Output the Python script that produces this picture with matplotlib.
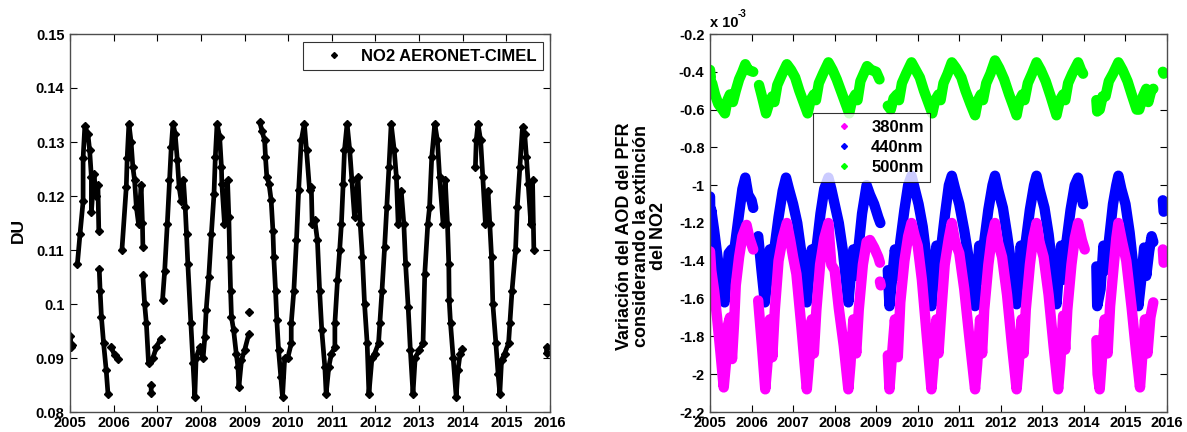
import numpy as np
import matplotlib
matplotlib.use('Agg')
import matplotlib.pyplot as plt

plt.rcParams['font.family'] = ['Liberation Sans', 'DejaVu Sans']
plt.rcParams['font.weight'] = 'bold'

# Datos: (año decimal, valor). None separa tramos sin datos.
no2_du = [
    (2005.01, 0.094), (2005.02, 0.092), (2005.04, 0.0925), None,
    (2005.17, 0.1075), (2005.23, 0.113), (2005.30, 0.119), (2005.30, 0.127), (2005.34, 0.133),
    (2005.41, 0.1315), (2005.45, 0.1285), (2005.49, 0.1235), (2005.49, 0.117), (2005.55, 0.124),
    (2005.60, 0.120), (2005.64, 0.122), (2005.66, 0.1135), None,
    (2005.67, 0.1065), (2005.69, 0.1025), (2005.72, 0.0976), (2005.77, 0.0927), (2005.83, 0.0877),
    (2005.87, 0.0834), None,
    (2005.95, 0.092), (2006.02, 0.0905), (2006.09, 0.0899), None,
    (2006.19, 0.110), (2006.29, 0.1217), (2006.31, 0.127), (2006.35, 0.1334), (2006.40, 0.130),
    (2006.44, 0.1254), (2006.48, 0.1229), (2006.52, 0.118), (2006.57, 0.1149), (2006.63, 0.122),
    (2006.66, 0.115), (2006.67, 0.1106), None,
    (2006.67, 0.1053), (2006.71, 0.100), (2006.75, 0.0964), (2006.80, 0.089), None,
    (2006.86, 0.0835), (2006.86, 0.085), None,
    (2006.90, 0.090), (2006.98, 0.092), (2007.08, 0.0936), None,
    (2007.12, 0.1007), (2007.17, 0.1062), (2007.23, 0.1149), (2007.28, 0.1229), (2007.32, 0.129),
    (2007.36, 0.1334), (2007.41, 0.1315), (2007.46, 0.1266), (2007.50, 0.1217), (2007.55, 0.119),
    (2007.60, 0.1229), (2007.64, 0.118), (2007.67, 0.113), (2007.70, 0.1075), (2007.77, 0.0964),
    (2007.82, 0.089), (2007.86, 0.0828), (2007.89, 0.090), (2007.97, 0.092), (2008.05, 0.090),
    (2008.09, 0.0939), (2008.12, 0.0988), (2008.18, 0.105), (2008.24, 0.113), (2008.30, 0.1204),
    (2008.33, 0.1272), (2008.37, 0.1334), (2008.43, 0.1309), (2008.47, 0.1254), (2008.48, 0.1223),
    (2008.54, 0.1149), (2008.61, 0.1229), (2008.64, 0.1161), (2008.66, 0.1087), (2008.68, 0.1025),
    (2008.70, 0.0976), (2008.75, 0.0951), (2008.81, 0.0908), (2008.85, 0.0883), (2008.87, 0.0846),
    (2008.93, 0.0896), (2009.00, 0.0914), (2009.10, 0.0945), None,
    (2009.10, 0.0986), None,
    (2009.35, 0.1337), (2009.40, 0.132), (2009.46, 0.1303), (2009.48, 0.1272), (2009.51, 0.1235),
    (2009.56, 0.1223), (2009.61, 0.1192), (2009.65, 0.1136), (2009.67, 0.1087), (2009.71, 0.1025),
    (2009.74, 0.097), (2009.78, 0.0914), (2009.83, 0.0865), (2009.87, 0.0828), (2009.92, 0.090),
    (2009.99, 0.090), (2010.07, 0.0927), (2010.07, 0.0964), (2010.13, 0.1025), (2010.19, 0.1118),
    (2010.24, 0.1211), (2010.30, 0.1303), (2010.37, 0.1334), (2010.42, 0.1285), (2010.49, 0.1211),
    (2010.53, 0.1217), (2010.55, 0.1149), (2010.61, 0.1155), (2010.67, 0.1118), (2010.72, 0.1025),
    (2010.77, 0.0951), (2010.84, 0.0883), (2010.87, 0.0834), (2010.93, 0.0883), (2010.99, 0.0908),
    (2011.07, 0.092), (2011.07, 0.0964), (2011.13, 0.1044), (2011.18, 0.110), (2011.22, 0.1149),
    (2011.26, 0.1223), (2011.29, 0.1285), (2011.35, 0.1334), (2011.41, 0.1285), (2011.46, 0.1229),
    (2011.52, 0.1161), (2011.60, 0.1235), (2011.65, 0.1149), (2011.70, 0.1087), (2011.75, 0.100),
    (2011.81, 0.0927), (2011.85, 0.0834), (2011.92, 0.090), (2011.98, 0.0908), (2012.07, 0.0927),
    (2012.10, 0.0964), (2012.15, 0.1025), (2012.21, 0.1106), (2012.26, 0.118), (2012.31, 0.1254),
    (2012.36, 0.1334), (2012.43, 0.1285), (2012.48, 0.1235), (2012.52, 0.1149), (2012.59, 0.121),
    (2012.65, 0.1149), (2012.69, 0.1075), (2012.75, 0.0994), (2012.80, 0.0914), (2012.86, 0.0834),
    (2012.91, 0.090), (2013.00, 0.0914), (2013.09, 0.0927), (2013.13, 0.1056), (2013.20, 0.1149),
    (2013.24, 0.118), (2013.29, 0.1272), (2013.36, 0.1334), (2013.42, 0.1303), (2013.47, 0.1235),
    (2013.55, 0.1149), (2013.60, 0.1229), (2013.65, 0.1149), (2013.68, 0.1075), (2013.69, 0.1007),
    (2013.72, 0.0964), (2013.78, 0.090), (2013.85, 0.0828), (2013.89, 0.0877), (2013.94, 0.0908),
    (2013.99, 0.0917), None,
    (2014.29, 0.1254), (2014.31, 0.1303), (2014.35, 0.1334), (2014.41, 0.1303), (2014.46, 0.1235),
    (2014.52, 0.1149), (2014.58, 0.121), (2014.62, 0.1149), (2014.66, 0.1087), (2014.69, 0.100),
    (2014.76, 0.0927), (2014.81, 0.0871), (2014.85, 0.0834), (2014.89, 0.0896), (2014.96, 0.0908),
    (2015.05, 0.0927), (2015.08, 0.0964), (2015.13, 0.1025), (2015.21, 0.110), (2015.25, 0.118),
    (2015.31, 0.1254), (2015.37, 0.1328), (2015.42, 0.1315), (2015.46, 0.1272), (2015.50, 0.1223),
    (2015.56, 0.1149), (2015.60, 0.1229), (2015.63, 0.110), None,
    (2015.92, 0.091), (2015.92, 0.092),
]

# Variacion del AOD (x 10^-3)
aod_500 = [
    (2005.00, -0.39), (2005.02, -0.43), None,
    (2005.05, -0.46), (2005.12, -0.52), (2005.20, -0.57), (2005.30, -0.60), (2005.36, -0.62),
    (2005.42, -0.55), (2005.48, -0.52), (2005.55, -0.56), (2005.62, -0.50), (2005.70, -0.44),
    (2005.78, -0.40), (2005.85, -0.36), (2005.92, -0.39), (2006.04, -0.40), None,
    (2006.18, -0.47), (2006.25, -0.53), (2006.35, -0.62), (2006.42, -0.57), (2006.50, -0.53),
    (2006.55, -0.56), (2006.62, -0.47), (2006.72, -0.42), (2006.85, -0.36), (2006.95, -0.39),
    (2007.05, -0.43), (2007.15, -0.50), (2007.25, -0.56), (2007.35, -0.62), (2007.42, -0.55),
    (2007.50, -0.52), (2007.55, -0.55), (2007.62, -0.46), (2007.72, -0.41), (2007.85, -0.35),
    (2007.95, -0.39), (2008.05, -0.44), (2008.15, -0.50), (2008.25, -0.56), (2008.35, -0.62),
    (2008.42, -0.55), (2008.50, -0.52), (2008.55, -0.55), (2008.62, -0.45), (2008.70, -0.41),
    (2008.78, -0.37), (2008.88, -0.39), (2009.00, -0.40), (2009.08, -0.44), None,
    (2009.28, -0.58), (2009.35, -0.60), (2009.42, -0.54), (2009.50, -0.52), (2009.55, -0.55),
    (2009.62, -0.46), (2009.72, -0.41), (2009.85, -0.35), (2009.95, -0.39), (2010.05, -0.43),
    (2010.15, -0.50), (2010.25, -0.56), (2010.35, -0.62), (2010.42, -0.55), (2010.50, -0.52),
    (2010.55, -0.55), (2010.62, -0.46), (2010.72, -0.41), (2010.82, -0.35), (2010.92, -0.38),
    (2011.05, -0.43), (2011.15, -0.50), (2011.27, -0.57), (2011.38, -0.63), (2011.45, -0.55),
    (2011.52, -0.52), (2011.57, -0.55), (2011.65, -0.46), (2011.75, -0.41), (2011.86, -0.34),
    (2011.96, -0.38), (2012.08, -0.44), (2012.20, -0.52), (2012.30, -0.58), (2012.38, -0.63),
    (2012.45, -0.55), (2012.52, -0.52), (2012.57, -0.55), (2012.65, -0.46), (2012.75, -0.41),
    (2012.86, -0.35), (2012.96, -0.39), (2013.08, -0.45), (2013.20, -0.53), (2013.34, -0.63),
    (2013.42, -0.55), (2013.50, -0.52), (2013.55, -0.55), (2013.62, -0.46), (2013.72, -0.41),
    (2013.86, -0.35), (2013.93, -0.39), (2013.98, -0.41), None,
    (2014.30, -0.55), (2014.32, -0.61), (2014.38, -0.60), (2014.45, -0.53), (2014.52, -0.53),
    (2014.60, -0.45), (2014.70, -0.41), (2014.83, -0.35), (2014.93, -0.39), (2015.05, -0.45),
    (2015.15, -0.52), (2015.27, -0.60), (2015.33, -0.60), (2015.42, -0.53), (2015.50, -0.49),
    (2015.55, -0.56), (2015.62, -0.50), (2015.67, -0.49), None,
    (2015.90, -0.40), (2015.92, -0.41),
]

aod_440 = [
    (2005.00, -1.06), (2005.01, -1.20), (2005.03, -1.13), (2005.10, -1.24), (2005.18, -1.38),
    (2005.28, -1.52), (2005.35, -1.62), (2005.42, -1.45), (2005.45, -1.36), (2005.52, -1.34),
    (2005.56, -1.45), (2005.60, -1.32), (2005.70, -1.15), (2005.78, -1.02), (2005.85, -0.96),
    (2005.92, -1.05), (2006.00, -1.08), (2006.04, -1.12), None,
    (2006.16, -1.27), (2006.24, -1.45), (2006.32, -1.62), (2006.38, -1.50), (2006.44, -1.34),
    (2006.50, -1.47), (2006.56, -1.32), (2006.65, -1.17), (2006.75, -1.03), (2006.83, -0.96),
    (2006.90, -1.02), (2007.00, -1.10), (2007.10, -1.20), (2007.20, -1.36), (2007.33, -1.62),
    (2007.40, -1.45), (2007.45, -1.34), (2007.52, -1.48), (2007.57, -1.32), (2007.66, -1.15),
    (2007.75, -1.02), (2007.85, -0.96), (2007.92, -1.02), (2008.00, -1.10), (2008.10, -1.20),
    (2008.20, -1.35), (2008.33, -1.62), (2008.40, -1.45), (2008.45, -1.34), (2008.52, -1.48),
    (2008.58, -1.32), (2008.66, -1.15), (2008.77, -1.00), (2008.85, -1.05), (2008.95, -1.10),
    (2009.05, -1.17), (2009.10, -1.20), None,
    (2009.28, -1.45), (2009.32, -1.64), (2009.38, -1.50), (2009.45, -1.34), (2009.52, -1.48),
    (2009.58, -1.30), (2009.68, -1.13), (2009.77, -1.00), (2009.85, -0.95), (2009.93, -1.02),
    (2010.02, -1.10), (2010.12, -1.22), (2010.22, -1.40), (2010.33, -1.64), (2010.40, -1.45),
    (2010.45, -1.32), (2010.52, -1.50), (2010.58, -1.30), (2010.66, -1.15), (2010.75, -1.00),
    (2010.82, -0.95), (2010.90, -1.02), (2011.00, -1.10), (2011.12, -1.24), (2011.25, -1.42),
    (2011.38, -1.64), (2011.44, -1.45), (2011.48, -1.32), (2011.55, -1.50), (2011.60, -1.30),
    (2011.70, -1.13), (2011.80, -1.00), (2011.86, -0.95), (2011.93, -1.02), (2012.05, -1.12),
    (2012.15, -1.26), (2012.27, -1.45), (2012.38, -1.63), (2012.44, -1.45), (2012.48, -1.32),
    (2012.55, -1.50), (2012.60, -1.30), (2012.70, -1.13), (2012.80, -1.00), (2012.86, -0.95),
    (2012.93, -1.02), (2013.05, -1.12), (2013.15, -1.26), (2013.25, -1.45), (2013.34, -1.63),
    (2013.40, -1.45), (2013.45, -1.32), (2013.52, -1.50), (2013.58, -1.30), (2013.68, -1.13),
    (2013.78, -1.00), (2013.86, -0.96), (2013.92, -1.03), (2013.98, -1.10), None,
    (2014.30, -1.43), (2014.32, -1.64), (2014.40, -1.55), (2014.47, -1.32), (2014.52, -1.45),
    (2014.60, -1.30), (2014.70, -1.10), (2014.78, -1.00), (2014.83, -0.95), (2014.90, -1.02),
    (2015.00, -1.10), (2015.10, -1.25), (2015.20, -1.45), (2015.31, -1.64), (2015.38, -1.50),
    (2015.45, -1.33), (2015.50, -1.48), (2015.57, -1.35), (2015.63, -1.27), (2015.67, -1.30), None,
    (2015.90, -1.08), (2015.92, -1.14),
]

aod_380 = [
    (2005.00, -1.35), (2005.03, -1.45), (2005.10, -1.56), (2005.17, -1.70), (2005.25, -1.88),
    (2005.33, -2.07), (2005.38, -1.95), (2005.42, -1.75), (2005.48, -1.70), (2005.53, -1.92),
    (2005.58, -1.73), (2005.62, -1.53), (2005.70, -1.38), (2005.78, -1.27), (2005.88, -1.21),
    (2005.95, -1.28), (2006.04, -1.34), None,
    (2006.16, -1.61), (2006.25, -1.85), (2006.33, -2.08), (2006.38, -1.95), (2006.44, -1.71),
    (2006.50, -1.91), (2006.56, -1.66), (2006.65, -1.40), (2006.75, -1.28), (2006.85, -1.20),
    (2006.93, -1.29), (2007.00, -1.38), (2007.08, -1.47), (2007.20, -1.75), (2007.33, -2.08),
    (2007.38, -1.95), (2007.45, -1.71), (2007.50, -1.89), (2007.56, -1.66), (2007.65, -1.42),
    (2007.75, -1.28), (2007.85, -1.20), (2007.88, -1.30), (2007.92, -1.42), (2008.00, -1.45),
    (2008.10, -1.65), (2008.22, -1.85), (2008.33, -2.08), (2008.38, -1.95), (2008.45, -1.71),
    (2008.52, -1.89), (2008.58, -1.66), (2008.68, -1.42), (2008.77, -1.30), (2008.85, -1.29),
    (2008.95, -1.33), (2009.05, -1.38), (2009.09, -1.41), None,
    (2009.09, -1.51), (2009.11, -1.53), None,
    (2009.28, -1.90), (2009.32, -2.08), (2009.38, -1.90), (2009.45, -1.71), (2009.52, -1.91),
    (2009.58, -1.62), (2009.68, -1.40), (2009.77, -1.27), (2009.85, -1.20), (2009.93, -1.27),
    (2010.00, -1.32), (2010.10, -1.50), (2010.22, -1.80), (2010.33, -2.08), (2010.38, -1.95),
    (2010.45, -1.71), (2010.50, -1.89), (2010.57, -1.66), (2010.65, -1.42), (2010.75, -1.28),
    (2010.82, -1.20), (2010.90, -1.30), (2011.00, -1.36), (2011.12, -1.55), (2011.25, -1.82),
    (2011.38, -2.08), (2011.43, -1.95), (2011.50, -1.71), (2011.55, -1.89), (2011.60, -1.66),
    (2011.70, -1.42), (2011.78, -1.28), (2011.86, -1.20), (2011.93, -1.30), (2012.03, -1.38),
    (2012.15, -1.58), (2012.27, -1.85), (2012.38, -2.08), (2012.43, -1.95), (2012.50, -1.71),
    (2012.55, -1.89), (2012.60, -1.66), (2012.70, -1.42), (2012.78, -1.28), (2012.86, -1.20),
    (2012.93, -1.30), (2013.03, -1.38), (2013.15, -1.58), (2013.27, -1.85), (2013.38, -2.08),
    (2013.43, -1.95), (2013.50, -1.69), (2013.55, -1.87), (2013.60, -1.66), (2013.70, -1.42),
    (2013.78, -1.28), (2013.86, -1.20), (2013.95, -1.29), (2014.02, -1.34), None,
    (2014.30, -1.82), (2014.33, -2.00), (2014.38, -2.08), (2014.44, -1.90), (2014.50, -1.71),
    (2014.57, -1.89), (2014.63, -1.64), (2014.72, -1.42), (2014.78, -1.28), (2014.83, -1.20),
    (2014.92, -1.30), (2015.02, -1.40), (2015.15, -1.65), (2015.25, -1.87), (2015.35, -2.07),
    (2015.40, -1.92), (2015.47, -1.71), (2015.53, -1.89), (2015.60, -1.70), (2015.67, -1.62), None,
    (2015.90, -1.34), (2015.92, -1.41),
]

anios = list(range(2005, 2017))
ticks_du = [0.08, 0.09, 0.10, 0.11, 0.12, 0.13, 0.14, 0.15]
etiquetas_du = ['0.08', '0.09', '0.1', '0.11', '0.12', '0.13', '0.14', '0.15']
ticks_aod = [-2.2, -2.0, -1.8, -1.6, -1.4, -1.2, -1.0, -0.8, -0.6, -0.4, -0.2]
etiquetas_aod = ['-2.2', '-2', '-1.8', '-1.6', '-1.4', '-1.2', '-1', '-0.8', '-0.6', '-0.4', '-0.2']


def separar(puntos):
    # Convierte la lista de pares en dos arrays con NaN en los huecos
    t = [np.nan if p is None else p[0] for p in puntos]
    v = [np.nan if p is None else p[1] for p in puntos]
    return np.array(t, dtype=float), np.array(v, dtype=float)


def estilo_ejes(ax):
    ax.tick_params(direction='in', length=5, width=0.8, top=True, right=True,
                   labelsize=10.5, colors='black')
    ax.tick_params(axis='x', pad=3)
    ax.tick_params(axis='y', pad=4)
    for s in ax.spines.values():
        s.set_color('#4d4d4d')
        s.set_linewidth(1.0)
    ax.set_xlim(2005, 2016)
    ax.set_xticks(anios)
    ax.set_xticklabels([str(a) for a in anios])


fig = plt.figure(figsize=(11.87, 4.32), dpi=100)
ax1 = fig.add_axes([70 / 1187, 20 / 432, 480 / 1187, 378 / 432])
ax2 = fig.add_axes([710 / 1187, 20 / 432, 457 / 1187, 378 / 432])

# Panel izquierdo: NO2
t, v = separar(no2_du)
ax1.plot(t, v, '-', color='black', lw=3.4, marker='D', ms=4, solid_capstyle='round')
ax1.plot([], [], 'D', color='black', ms=3, label='NO2 AERONET-CIMEL')
estilo_ejes(ax1)
ax1.set_ylim(0.08, 0.15)
ax1.set_yticks(ticks_du)
ax1.set_yticklabels(etiquetas_du)
ax1.set_ylabel('DU', fontsize=12.5, fontweight='bold')
ax1.yaxis.set_label_coords(-0.092, 0.48)
leg1 = ax1.legend(loc='upper right', bbox_to_anchor=(0.986, 0.979), borderaxespad=0,
                  fancybox=False, edgecolor='black', fontsize=12, handlelength=3.0,
                  handletextpad=0.1, borderpad=0.4)
leg1.get_frame().set_linewidth(0.8)

# Panel derecho: variacion del AOD
colores = {'380nm': '#ff00ff', '440nm': '#0000ff', '500nm': '#00ff00'}
for nombre, serie in [('500nm', aod_500), ('440nm', aod_440), ('380nm', aod_380)]:
    t, v = separar(serie)
    ax2.plot(t, v, '-', color=colores[nombre], lw=7.5, solid_capstyle='round')
for nombre in ['380nm', '440nm', '500nm']:
    ax2.plot([], [], 'D', color=colores[nombre], ms=3, label=nombre)
estilo_ejes(ax2)
ax2.set_ylim(-2.2, -0.2)
ax2.set_yticks(ticks_aod)
ax2.set_yticklabels(etiquetas_aod)
ax2.set_ylabel('Variación del AOD del PFR\nconsiderando la extinción\ndel NO2',
               fontsize=13, fontweight='bold', linespacing=1.0)
ax2.yaxis.set_label_coords(-0.095, 0.466)
ax2.text(0.0, 1.018, 'x 10', transform=ax2.transAxes, fontsize=10.5, fontweight='bold',
         ha='left', va='baseline')
ax2.text(0.061, 1.045, '-3', transform=ax2.transAxes, fontsize=7, ha='left', va='baseline')
leg2 = ax2.legend(loc='upper left', bbox_to_anchor=(0.225, 0.79), borderaxespad=0,
                  fancybox=False, edgecolor='black', fontsize=12, handlelength=3.0,
                  handletextpad=0.1, borderpad=0.4, labelspacing=0.3)
leg2.get_frame().set_linewidth(0.8)

fig.savefig('out.png', dpi=100)
